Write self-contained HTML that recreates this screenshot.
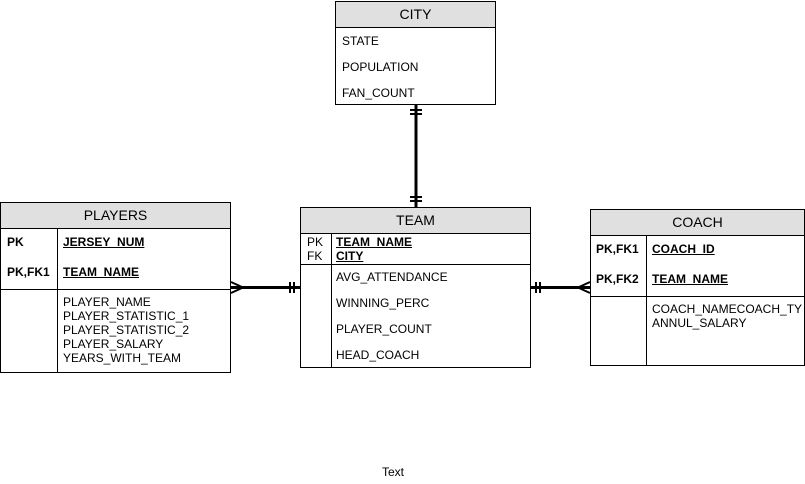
<!DOCTYPE html>
<html><head><style>
body{margin:0;width:805px;height:484px;background:#fff;position:relative;font-family:"Liberation Sans",sans-serif;font-size:12px;color:#000;overflow:hidden}
.a{position:absolute;white-space:nowrap}
.box{position:absolute;border:1px solid #000;box-sizing:border-box;background:#fff}
.hd{position:absolute;left:0;right:0;top:0;background:#e0e0e0;border-bottom:1px solid #000;text-align:center;font-size:14px}
b{text-decoration:underline}
</style></head><body>
<svg class="a" style="left:0;top:0" width="805" height="484">
<g stroke="#000" stroke-width="3" fill="none">
<line x1="416" y1="104" x2="416" y2="207"/>
<line x1="231" y1="287.5" x2="300" y2="287.5"/>
<line x1="530" y1="287.5" x2="590" y2="287.5"/>
</g>
<g stroke="#000" stroke-width="2" fill="none">
<line x1="410" y1="110" x2="422" y2="110"/><line x1="410" y1="114" x2="422" y2="114"/>
<line x1="410" y1="197" x2="422" y2="197"/><line x1="410" y1="201" x2="422" y2="201"/>
<line x1="290" y1="282" x2="290" y2="293"/><line x1="294" y1="282" x2="294" y2="293"/>
<line x1="536" y1="282" x2="536" y2="293"/><line x1="540" y1="282" x2="540" y2="293"/>
<polyline points="231,282 243,287.5 231,293"/>
<polyline points="590,282 578,287.5 590,293"/>
</g>
</svg>

<div class="box" style="left:335px;top:1px;width:161px;height:104px">
<div class="hd" style="height:25px;line-height:25px">CITY</div>
<div class="a" style="left:6px;top:32px">STATE</div>
<div class="a" style="left:6px;top:58px">POPULATION</div>
<div class="a" style="left:6px;top:84px">FAN_COUNT</div>
</div>

<div class="box" style="left:0;top:202px;width:231px;height:171px">
<div class="hd" style="height:25px;line-height:25px">PLAYERS</div>
<div class="a" style="left:56px;top:26px;width:1px;height:144px;background:#000"></div>
<div class="a" style="left:0;top:86px;width:230px;height:1px;background:#000"></div>
<div class="a" style="left:6px;top:32px;font-weight:bold">PK</div>
<div class="a" style="left:6px;top:62px;font-weight:bold">PK,FK1</div>
<div class="a" style="left:62px;top:32px;font-weight:bold"><b>JERSEY_NUM</b></div>
<div class="a" style="left:62px;top:62px;font-weight:bold"><b>TEAM_NAME</b></div>
<div class="a" style="left:62px;top:92px;line-height:14px">PLAYER_NAME<br>PLAYER_STATISTIC_1<br>PLAYER_STATISTIC_2<br>PLAYER_SALARY<br>YEARS_WITH_TEAM</div>
</div>

<div class="box" style="left:300px;top:207px;width:231px;height:161px">
<div class="hd" style="height:25px;line-height:25px">TEAM</div>
<div class="a" style="left:30px;top:26px;width:1px;height:134px;background:#000"></div>
<div class="a" style="left:0;top:56px;width:230px;height:1px;background:#000"></div>
<div class="a" style="left:6px;top:27px;line-height:14px">PK<br>FK</div>
<div class="a" style="left:35px;top:27px;line-height:14px;font-weight:bold"><b>TEAM_NAME</b><br><b>CITY</b></div>
<div class="a" style="left:35px;top:62px">AVG_ATTENDANCE</div>
<div class="a" style="left:35px;top:88px">WINNING_PERC</div>
<div class="a" style="left:35px;top:114px">PLAYER_COUNT</div>
<div class="a" style="left:35px;top:140px">HEAD_COACH</div>
</div>

<div class="box" style="left:590px;top:209px;width:215px;height:157px;overflow:hidden">
<div class="hd" style="height:25px;line-height:25px">COACH</div>
<div class="a" style="left:55px;top:26px;width:1px;height:130px;background:#000"></div>
<div class="a" style="left:0;top:86px;width:216px;height:1px;background:#000"></div>
<div class="a" style="left:5px;top:32px;font-weight:bold">PK,FK1</div>
<div class="a" style="left:5px;top:62px;font-weight:bold">PK,FK2</div>
<div class="a" style="left:61px;top:32px;font-weight:bold"><b>COACH_ID</b></div>
<div class="a" style="left:61px;top:62px;font-weight:bold"><b>TEAM_NAME</b></div>
<div class="a" style="left:61px;top:92px;width:151px;overflow:hidden;line-height:14px">COACH_NAMECOACH_TYPE<br>ANNUL_SALARY</div>
</div>

<div class="a" style="left:382px;top:465px">Text</div>
</body></html>
